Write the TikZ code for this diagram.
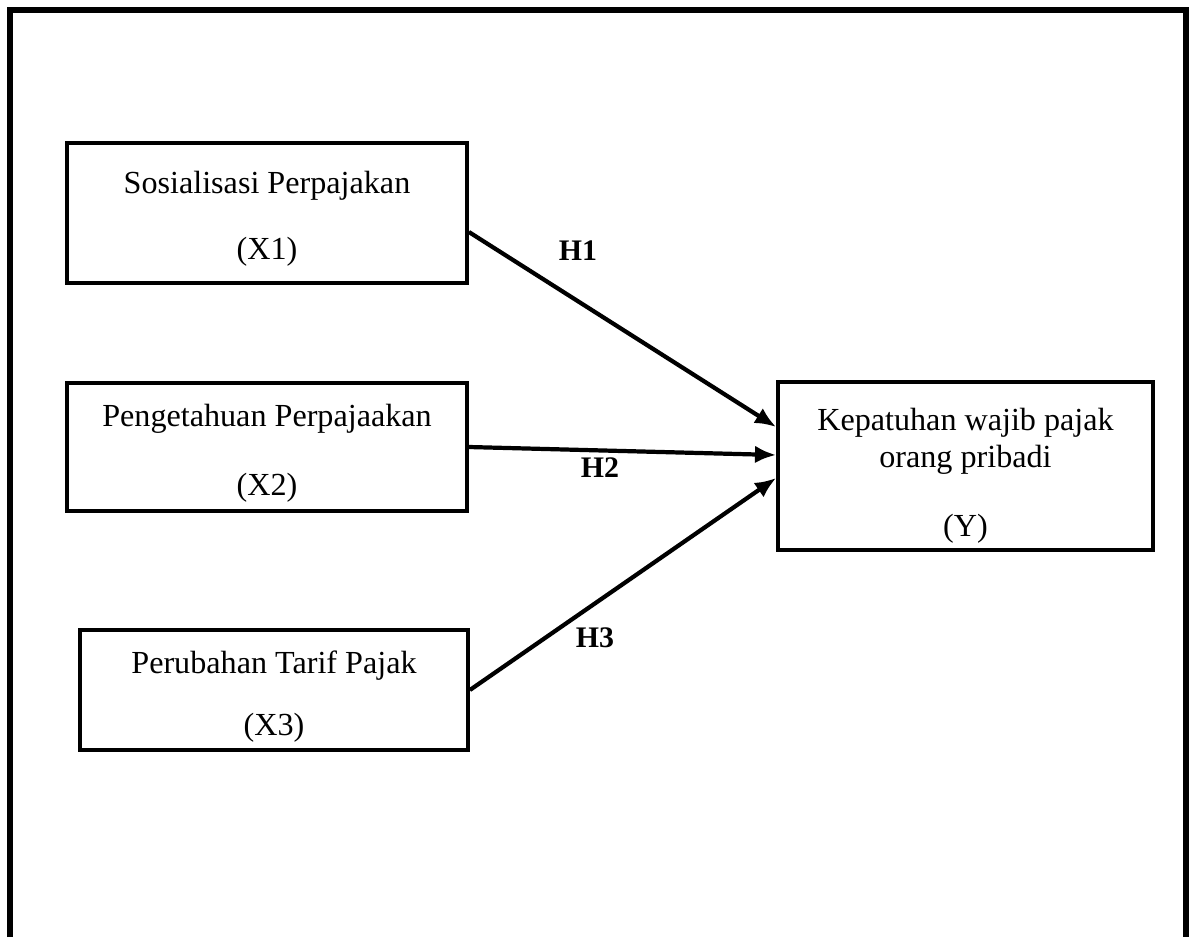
\documentclass[tikz,border=0pt]{standalone}
\usepackage{fontspec}
\setmainfont{Liberation Serif}
\usetikzlibrary{arrows.meta}
\tikzset{
	varbox/.style={draw, line width=2.2pt, inner sep=0pt},
	vartext/.style={align=center, inner sep=0pt, font=\fontsize{18.3}{21.5}\selectfont},
	hyparrow/.style={line width=2.4pt, -{Latex[length=12pt, width=10pt]}},
	hyplabel/.style={font=\fontsize{17}{19}\selectfont\bfseries}
}

\begin{document}
\begin{tikzpicture}[x=0.02cm, y=-0.02cm]
			%%%%% START %%%%%
			\useasboundingbox (0, 0) rectangle (1190, 937);
			
			\draw[line width=3pt] (10, 937) -- (10, 10) -- (1186, 10) -- (1186, 937);
			
			\node[varbox, minimum width=8cm, minimum height=2.8cm] (x1) at (267, 213) {};
			\node[varbox, minimum width=8cm, minimum height=2.56cm] (x2) at (267, 447) {};
			\node[varbox, minimum width=7.76cm, minimum height=2.4cm] (x3) at (274, 690) {};
			\node[varbox, minimum width=7.5cm, minimum height=3.36cm] (y) at (965.5, 466) {};
			
			\node[vartext] (x1t) at ([yshift=-0.12cm]x1.center) {Sosialisasi Perpajakan\\[16pt](X1)};
			\node[vartext] (x2t) at ([yshift=-0.12cm]x2.center) {Pengetahuan Perpajaakan\\[18pt](X2)};
			\node[vartext] (x3t) at ([yshift=-0.13cm]x3.center) {Perubahan Tarif Pajak\\[14pt](X3)};
			\node[vartext] (yt) at ([yshift=-0.2cm]y.center) {Kepatuhan wajib pajak\\[-0.5pt]orang pribadi\\[18pt](Y)};
			
			\draw[hyparrow] ([yshift=-0.38cm]x1.east) -- ([yshift=0.78cm]y.west);
			\draw[hyparrow] (x2.east) -- ([yshift=0.22cm]y.west);
			\draw[hyparrow] (x3.east) -- ([yshift=-0.24cm]y.west);
			
			\node[hyplabel] (h1) at (578, 251) {H1};
			\node[hyplabel] (h2) at (600, 468) {H2};
			\node[hyplabel] (h3) at (595, 638) {H3};
			%%%%% END %%%%%
		\end{tikzpicture}
\end{document}
